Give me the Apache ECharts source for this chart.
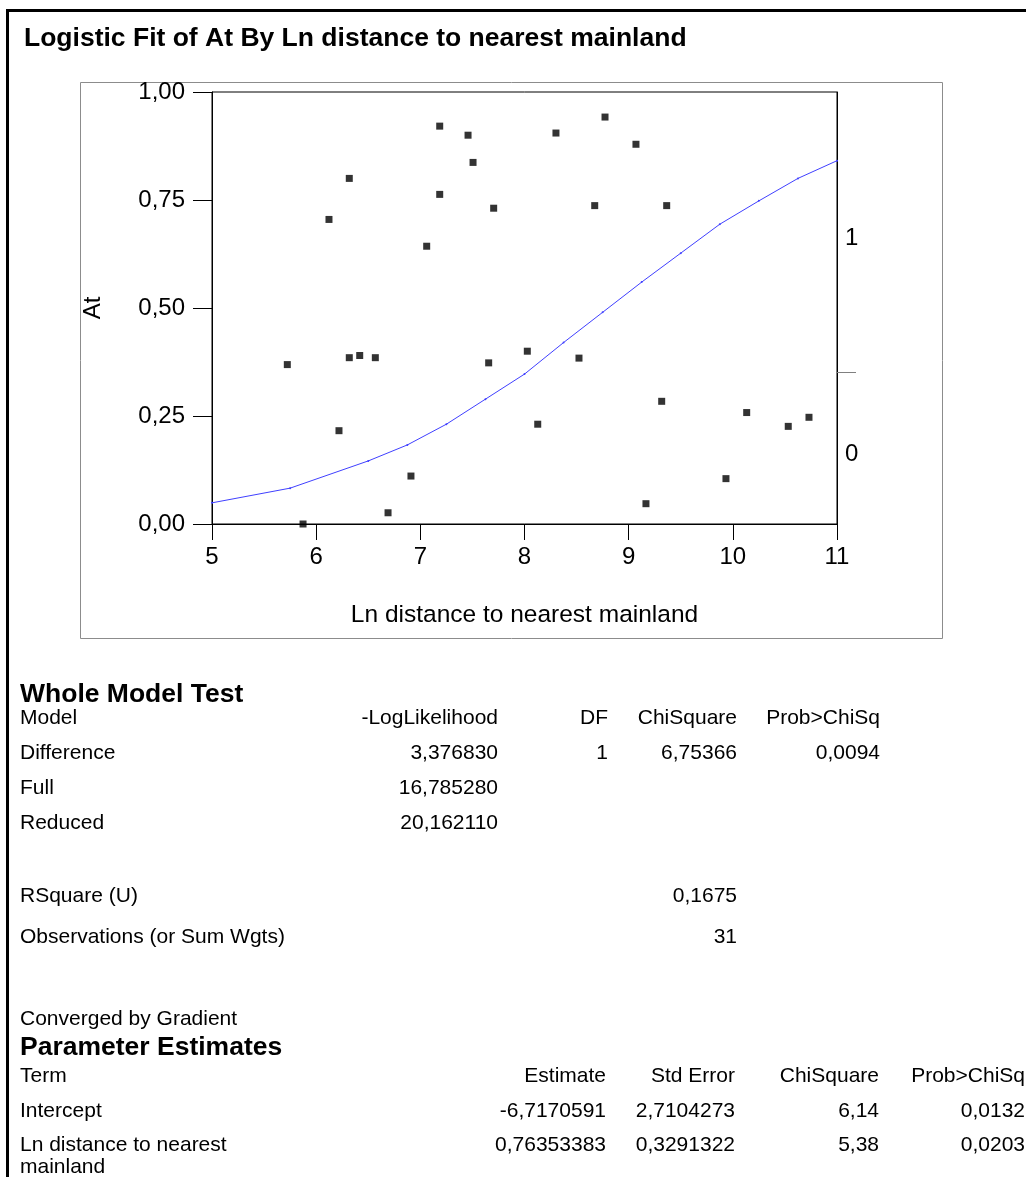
<!DOCTYPE html>
<html><head><meta charset="utf-8">
<script src="https://cdn.jsdelivr.net/npm/echarts@6/dist/echarts.min.js"></script>
<style>html,body{margin:0;padding:0;background:#fff}#c{width:1026px;height:1177px}</style>
</head><body><div id="c"></div>
<script>
// ---- data ----
const titleText = 'Logistic Fit of At By Ln distance to nearest mainland';
const xName = 'Ln distance to nearest mainland';
const yName = 'At';
const pointX = [7.186,7.458,7.506,6.318,7.186,7.704,6.123,7.061,8.773,8.302,9.070,8.674,9.365,5.723,6.318,6.418,6.568,7.656,6.219,6.910,6.690,5.874,8.027,8.523,8.127,9.317,10.133,10.532,10.731,9.934,9.166];
const pointY = [0.921,0.900,0.837,0.800,0.763,0.731,0.705,0.643,0.942,0.905,0.879,0.737,0.737,0.369,0.385,0.390,0.385,0.373,0.216,0.111,0.026,0.000,0.400,0.384,0.231,0.284,0.258,0.226,0.247,0.105,0.047];
const curveX = [5,5.75,6.5,6.875,7.25,7.625,8,8.375,8.75,9.125,9.5,9.875,10.25,10.625,11];
const curveY = [0.049,0.083,0.146,0.183,0.231,0.289,0.347,0.420,0.490,0.560,0.627,0.694,0.748,0.800,0.841];
const yTickLabels = ['0,00','0,25','0,50','0,75','1,00'];
const levelLabels = ['0','1'];
const levelLabelAt = [0.161,0.661];
const levelDivider = [0.352];

const wmtTitle = 'Whole Model Test';
const wmtHeader = ['Model','-LogLikelihood','DF','ChiSquare','Prob>ChiSq'];
const wmtRows = [
  ['Difference','3,376830','1','6,75366','0,0094'],
  ['Full','16,785280','','',''],
  ['Reduced','20,162110','','','']
];
const fitRows = [['RSquare (U)','0,1675'],['Observations (or Sum Wgts)','31']];
const convergedText = 'Converged by Gradient';
const peTitle = 'Parameter Estimates';
const peHeader = ['Term','Estimate','Std Error','ChiSquare','Prob>ChiSq'];
const peRows = [
  ['Intercept','-6,7170591','2,7104273','6,14','0,0132'],
  ['Ln distance to nearest\nmainland','0,76353383','0,3291322','5,38','0,0203']
];

// ---- layout ----
const FF = '"Liberation Sans", Arial, sans-serif';
const chart = echarts.init(document.getElementById('c'), null, {renderer:'canvas'});
function T(x, y, s, align, size, bold){
  return {type:'text', x:x, y:y, silent:true, z:10,
    style:{text:s, fill:'#000', font:(bold?'bold ':'')+size+'px '+FF,
      textAlign:align, align:align, textVerticalAlign:'middle', verticalAlign:'middle', lineHeight:22}};
}
const g = [];
// outer border
g.push({type:'polyline', silent:true, shape:{points:[[7.5,1177],[7.5,10.5],[1026,10.5]]}, style:{stroke:'#000', lineWidth:3, fill:null}});
// chart frame
g.push({type:'rect', silent:true, shape:{x:80.5,y:82.5,width:862,height:556}, style:{stroke:'#8c8c8c', lineWidth:1, fill:null}});

const wmtCols = [20,498,608,737,880];
const wmtRowY = [718,753,788,823];
g.push(T(20,695,wmtTitle,'left',26.5,true));
[wmtHeader].concat(wmtRows).forEach((r,i)=>{
  r.forEach((s,j)=>{ if(s) g.push(T(wmtCols[j], wmtRowY[i], s, j===0?'left':'right', 21)); });
});
const fitY = [896,937];
fitRows.forEach((r,i)=>{ g.push(T(20,fitY[i],r[0],'left',21)); g.push(T(737,fitY[i],r[1],'right',21)); });
g.push(T(20,1019,convergedText,'left',21));
g.push(T(20,1048,peTitle,'left',26.5,true));
const peCols = [20,606,735,879,1025];
const peRowY = [1076,1111,1145];
[peHeader].concat(peRows).forEach((r,i)=>{
  r.forEach((s,j)=>{
    if(j===0 && s.indexOf('\n')>=0){
      const parts = s.split('\n');
      g.push(T(20,peRowY[i],parts[0],'left',21));
      g.push(T(20,peRowY[i]+22,parts[1],'left',21));
    } else g.push(T(peCols[j], peRowY[i], s, j===0?'left':'right', 21));
  });
});

chart.setOption({
  animation:false,
  backgroundColor:'#fff',
  textStyle:{fontFamily:FF},
  title:{text:titleText, left:19, top:20, textStyle:{fontFamily:FF, fontWeight:'bold', fontSize:26.5, color:'#000'}},
  grid:{left:212, top:92, width:625, height:432, show:true, borderColor:'#000', borderWidth:1, backgroundColor:'transparent'},
  xAxis:{type:'value', min:5, max:11, interval:1,
    name:xName, nameLocation:'middle', nameGap:79,
    nameTextStyle:{fontFamily:FF, fontSize:24.5, color:'#000'},
    axisLine:{show:true, lineStyle:{color:'#000', width:1}},
    axisTick:{show:true, inside:false, length:16, lineStyle:{color:'#000'}},
    axisLabel:{fontFamily:FF, fontSize:24, color:'#000', margin:21},
    splitLine:{show:false}},
  yAxis:[{type:'value', min:0, max:1, interval:0.25, position:'left',
    name:yName, nameLocation:'middle', nameGap:107, nameRotate:90,
    nameTextStyle:{fontFamily:FF, fontSize:24, color:'#000'},
    axisLine:{show:true, lineStyle:{color:'#000', width:1}},
    axisTick:{show:true, inside:false, length:19, lineStyle:{color:'#000'}},
    axisLabel:{fontFamily:FF, fontSize:24, color:'#000', margin:27,
      formatter:(v)=>yTickLabels[Math.round(v/0.25)]},
    splitLine:{show:false}},
   {type:'value', min:0, max:1, position:'right',
    axisLine:{show:true, lineStyle:{color:'#000', width:1}},
    axisTick:{show:true, inside:false, length:19, customValues:levelDivider, lineStyle:{color:'#808080'}},
    axisLabel:{fontFamily:FF, fontSize:24, color:'#000', margin:8, customValues:levelLabelAt,
      formatter:(v)=>{ const k = levelLabelAt.findIndex(a=>Math.abs(a-v)<1e-6); return k>=0?levelLabels[k]:''; }},
    splitLine:{show:false}}],
  series:[
    {type:'line', name:'fit', data:curveX.map((x,i)=>[x,curveY[i]]), showSymbol:true, symbol:'circle', symbolSize:2,
     lineStyle:{color:'#4040ff', width:1}, itemStyle:{color:'#4040ff'}, z:2},
    {type:'scatter', name:'At', data:pointX.map((x,i)=>[x,pointY[i]]), symbol:'rect', symbolSize:7,
     itemStyle:{color:'#000'}, z:3}
  ],
  graphic:g
});
</script></body></html>
